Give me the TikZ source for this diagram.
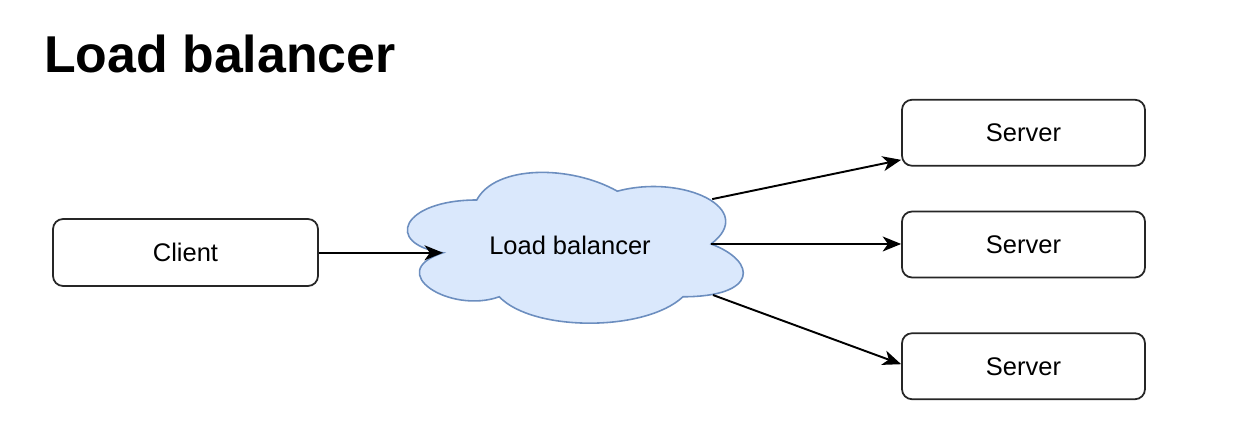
\documentclass[tikz,border=0pt]{standalone}
\usepackage{fontspec}
\setmainfont{Liberation Sans}
\usetikzlibrary{positioning, calc, arrows.meta}
\definecolor{cloudfill}{HTML}{DAE8FC}
\definecolor{cloudline}{HTML}{6C8EBF}
\tikzset{
    >={Stealth[length=10.5pt, width=8.5pt, inset=3pt]}, % filled arrow heads
    x=0.02cm, y=-0.02cm, % one unit is one pixel of the reference
    box/.style={draw=black!85, line width=1pt, rounded corners=0.2cm, fill=white, font=\fontsize{14.5}{17}\selectfont, minimum width=4.86cm, minimum height=1.32cm}, % the rounded boxes
    link/.style={->, line width=1.1pt}, % the connectors
}
\begin{document}
\begin{tikzpicture}
    \useasboundingbox (0,0) rectangle (1238,442);
    \node[anchor=base west, font=\fontsize{29.5}{34}\selectfont\bfseries] (title) at (38,73) {Load balancer};

    % cloud, drawn like the draw.io cloud shape
    \begin{scope}[shift={(383,156)}, x=7.5cm, y=-3.52cm]
        \draw[fill=cloudfill, draw=cloudline, line width=0.9pt]
            (0.25,0.25) .. controls (0.05,0.25) and (0,0.5) .. (0.16,0.55)
            .. controls (0,0.66) and (0.18,0.9) .. (0.31,0.8)
            .. controls (0.4,1) and (0.7,1) .. (0.8,0.8)
            .. controls (1,0.8) and (1,0.6) .. (0.875,0.5)
            .. controls (1,0.3) and (0.8,0.1) .. (0.625,0.2)
            .. controls (0.5,0.05) and (0.3,0.05) .. (0.25,0.25) -- cycle;
        \coordinate (lbin) at (0.16,0.55);
        \coordinate (lbtop) at (0.878,0.245);
        \coordinate (lbmid) at (0.875,0.5);
        \coordinate (lbbot) at (0.88,0.79);
    \end{scope}
    \node[font=\fontsize{14.5}{17}\selectfont] (lb) at (570,245) {Load balancer};

    \node[box, minimum width=5.3cm, minimum height=1.34cm] (client) at (185.5,252.5) {Client};
    \node[box] (srv2) at (1023.5,244.5) {Server};
    \node[box, above=0.88cm of srv2] (srv1) {Server};
    \node[box, below=1.08cm of srv2] (srv3) {Server};

    \draw[link] (client.east |- lbin) -- (lbin);
    \draw[link] (lbtop) -- ($(srv1.south west)!0.1!(srv1.north west)$);
    \draw[link] (lbmid) -- (lbmid -| srv2.west);
    \draw[link] (lbbot) -- ($(srv3.north west)!0.47!(srv3.south west)$);
\end{tikzpicture}
\end{document}
